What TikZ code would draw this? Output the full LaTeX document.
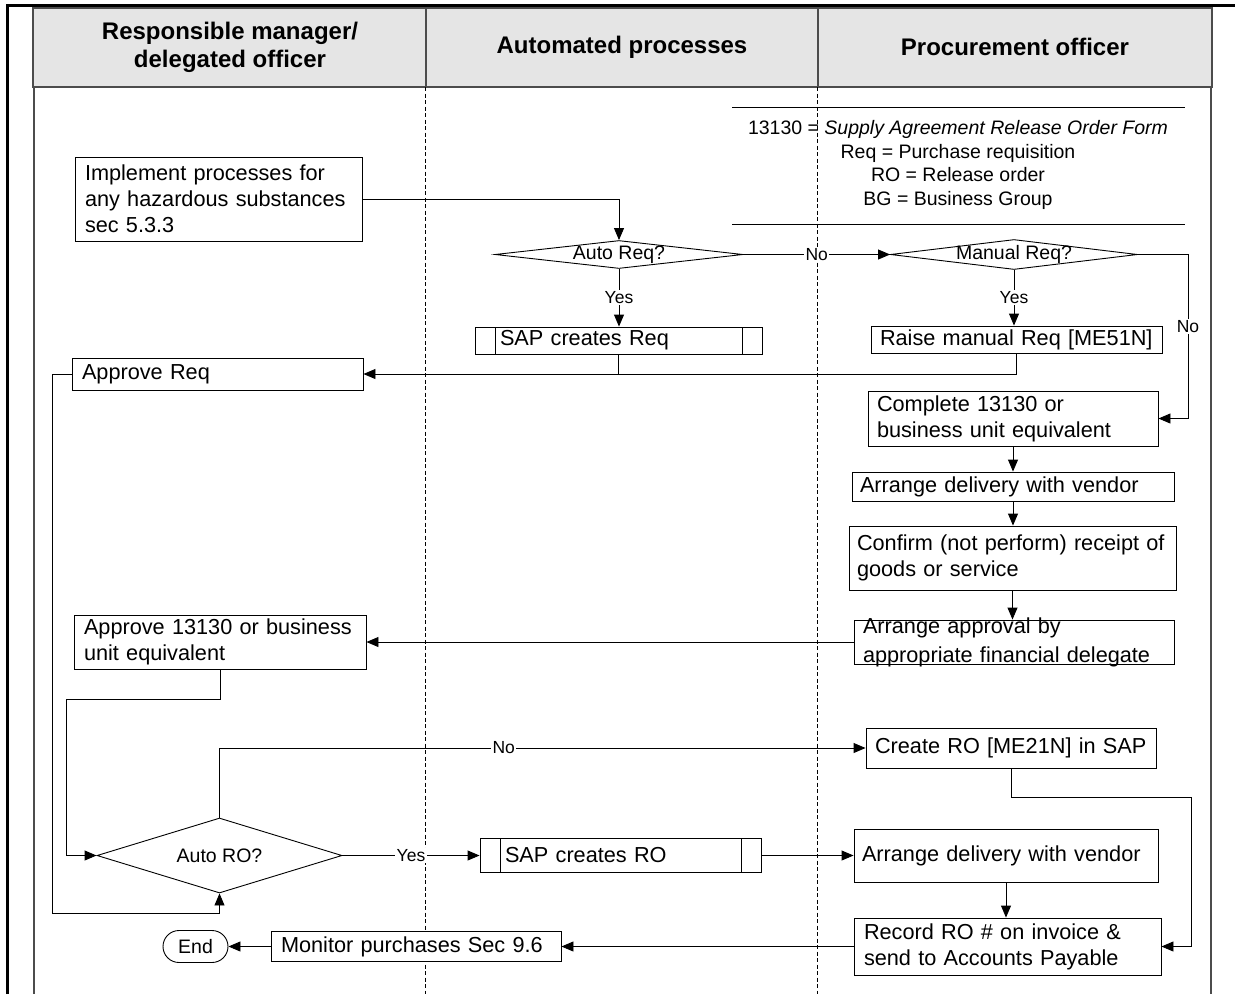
\documentclass[tikz,border=0pt]{standalone}
\usepackage{fontspec}
\setmainfont{Liberation Sans}
\usetikzlibrary{arrows.meta,shapes.geometric,calc}

\tikzset{
  boxfont/.style={font=\fontsize{21.7}{26}\selectfont},
  smallfont/.style={font=\fontsize{19.5}{23.7}\selectfont},
  proc/.style={draw=black, fill=white, line width=0.9pt, rectangle, inner ysep=0pt, align=left, boxfont},
  predef/.style={proc, inner xsep=25pt, path picture={
      \draw[line width=0.9pt] ([xshift=20pt]path picture bounding box.north west) -- ([xshift=20pt]path picture bounding box.south west);
      \draw[line width=0.9pt] ([xshift=-20pt]path picture bounding box.north east) -- ([xshift=-20pt]path picture bounding box.south east);}},
  decision/.style={draw=black, fill=white, line width=0.9pt, diamond, inner sep=0pt},
  terminal/.style={draw=black, fill=white, line width=0.9pt, rectangle, rounded corners=16pt, smallfont,
      minimum width=65pt, minimum height=32pt, inner sep=0pt},
  flow/.style={line width=0.9pt, -{Triangle[length=12pt,width=10pt]}},
  link/.style={line width=0.9pt},
  cond/.style={fill=white, inner sep=1.5pt, font=\fontsize{17.5}{20}\selectfont},
  lanehead/.style={font=\bfseries\fontsize{24}{28}\selectfont, align=center},
  laneline/.style={draw=gray!60!black, line width=1.2pt},
  divider/.style={line width=0.8pt, dash pattern=on 4pt off 2.5pt},
}

\begin{document}
\begin{tikzpicture}[x=1pt,y=-1pt]
\useasboundingbox (0,0) rectangle (1235,994);

% page frame
\draw[line width=3pt] (7,994) -- (7,5) -- (1235,5);

% swimlanes
\draw[laneline, fill=gray!20] (33,8) rectangle (1212,87);
\draw[laneline] (426,8) -- (426,87) (818,8) -- (818,87);
\draw[laneline] (34,87) -- (34,994) (1211,87) -- (1211,994);
\draw[divider] (425,87) -- (425,994) (817,87) -- (817,994);
\node[lanehead] (h1) at (230,47) {Responsible manager/\\delegated officer};
\node[lanehead] (h2) at (622,47) {Automated processes};
\node[lanehead] (h3) at (1015,47) {Procurement officer};

% abbreviations
\draw[link] (732,107) -- (1185,107) (732,224) -- (1185,224);
\node[smallfont, align=center] (legend) at (958,165)
  {13130 = \textit{Supply Agreement Release Order Form}\\Req = Purchase requisition\\RO = Release order\\BG = Business Group};

% steps
\node[proc, inner xsep=10pt, text width=267pt, minimum height=84pt] (impl) at (218.5,199)
  {Implement processes for\\any hazardous substances\\sec 5.3.3};
\node[decision, minimum width=248pt, minimum height=28pt, label={[smallfont]center:Auto Req?}] (autoreq) at (619,254.5) {};
\node[decision, minimum width=247pt, minimum height=30pt, label={[smallfont]center:Manual Req?}] (manreq) at (1014,254.5) {};
\node[predef, text width=237pt, minimum height=27pt] (sapreq) at (618.5,340.5) {SAP creates Req};
\node[proc, inner xsep=9pt, text width=273pt, minimum height=27pt] (raise) at (1016.5,339.5) {Raise manual Req [ME51N]};
\node[proc, inner xsep=10pt, text width=271pt, minimum height=32pt] (apreq) at (217.5,374) {Approve Req};
\node[proc, inner xsep=9pt, text width=272pt, minimum height=55pt] (complete) at (1013,418.5)
  {Complete 13130 or\\business unit equivalent};
\node[proc, inner xsep=8pt, text width=306pt, minimum height=29pt] (deliv1) at (1013,486.5) {Arrange delivery with vendor};
\node[proc, inner xsep=8pt, text width=311pt, minimum height=64pt] (confirm) at (1012.5,558)
  {Confirm (not perform) receipt of\\goods or service};
\node[proc, inner xsep=9pt, inner ysep=-6pt, text width=302pt, minimum height=44pt,
      font=\fontsize{21.7}{29}\selectfont] (arrapp) at (1014,642)
  {Arrange approval by\\appropriate financial delegate};
\node[proc, inner xsep=10pt, text width=272pt, minimum height=54pt] (ap13130) at (220,642)
  {Approve 13130 or business\\unit equivalent};
\node[decision, minimum width=245pt, minimum height=75pt, label={[smallfont]center:Auto RO?}] (autoro) at (219.5,855.5) {};
\node[proc, inner xsep=9pt, text width=272pt, minimum height=40pt] (createro) at (1011,748) {Create RO [ME21N] in SAP};
\node[predef, text width=231pt, minimum height=34pt] (sapro) at (620.5,855.5) {SAP creates RO};
\node[proc, inner xsep=8pt, text width=288pt, minimum height=53pt] (deliv2) at (1006,855.5) {Arrange delivery with vendor};
\node[proc, inner xsep=10pt, text width=287pt, minimum height=57pt] (record) at (1007.5,946.5)
  {Record RO \# on invoice \&\\send to Accounts Payable};
\node[proc, inner xsep=10pt, text width=270pt, minimum height=30pt] (monitor) at (416,946.5) {Monitor purchases Sec 9.6};
\node[terminal] (end) at (195.5,946.5) {End};

% connectors
\draw[flow] (impl.east) -| (autoreq.north);
\draw[flow] (autoreq.south) -- node[cond]{Yes} (autoreq.south |- sapreq.north);
\draw[flow] (autoreq.east) -- node[cond]{No} (manreq.west);
\draw[flow] (manreq.south) -- node[cond]{Yes} (manreq.south |- raise.north);
\draw[flow] (manreq.east) -- ++(50,0) |- node[cond, pos=0.22]{No} (complete.east);
\draw[link] (sapreq.south) -- (sapreq.south |- apreq.east);
\draw[flow] (raise.south) |- (apreq.east);
\draw[flow] (complete.south) -- (complete.south |- deliv1.north);
\draw[flow] (deliv1.south) -- (deliv1.south |- confirm.north);
\draw[flow] (confirm.south) -- (confirm.south |- arrapp.north);
\draw[flow] (arrapp.west) -- (ap13130.east);
\draw[flow] (ap13130.south) -- ++(0,30) -| ($(autoro.west)+(-30,0)$) -- (autoro.west);
\draw[flow] (apreq.west) -- ++(-19,0) |- ($(autoro.south)+(0,20)$) -- (autoro.south);
\draw[flow] (autoro.north) |- node[cond, pos=0.72]{No} (createro.west);
\draw[flow] (autoro.east) -- node[cond]{Yes} (sapro.west);
\draw[flow] (sapro.east) -- (deliv2.west);
\draw[flow] (createro.south) -- ++(0,29) -| ($(record.east)+(30,0)$) -- (record.east);
\draw[flow] (deliv2.south) -- (deliv2.south |- record.north);
\draw[flow] (record.west) -- (monitor.east);
\draw[flow] (monitor.west) -- (end.east);
\end{tikzpicture}
\end{document}
